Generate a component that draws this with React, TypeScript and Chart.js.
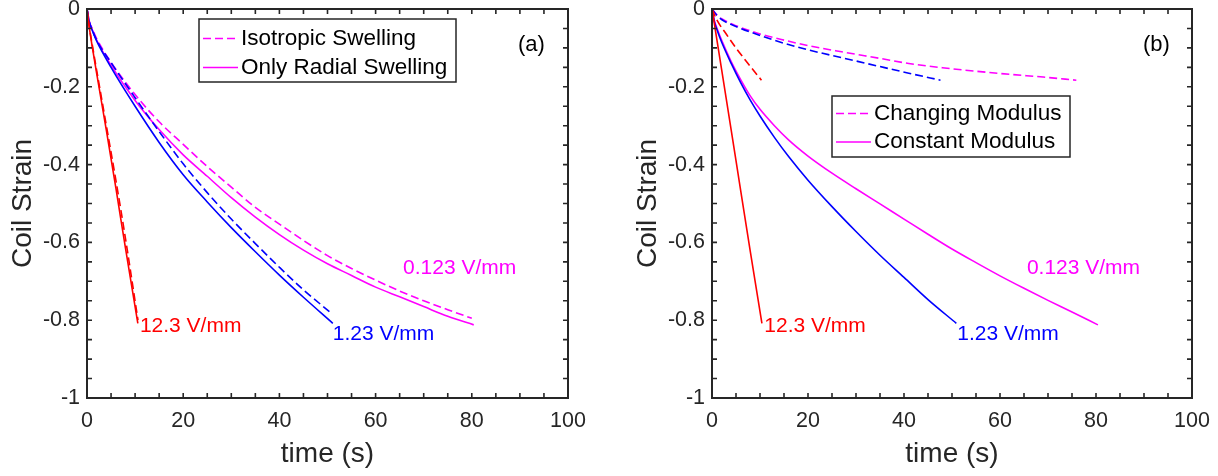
import React, { useEffect, useRef } from 'react';
import { Chart, registerables } from 'chart.js';

Chart.register(...registerables);

type Pt = [number, number];

const FONT = "'Liberation Sans', Arial, Helvetica, sans-serif";
const AXIS_COLOR = '#262626';
const RED = '#ff0000';
const BLUE = '#0000ff';
const MAGENTA = '#ff00ff';

// ---- axes ----
const X_TICKS = [0, 20, 40, 60, 80, 100];
const X_TICK_LABELS = ['0', '20', '40', '60', '80', '100'];
const Y_TICKS = [-1, -0.8, -0.6, -0.4, -0.2, 0];
const Y_TICK_LABELS = ['-1', '-0.8', '-0.6', '-0.4', '-0.2', '0'];
const X_TITLE = 'time (s)';
const Y_TITLE = 'Coil Strain';
const FIELD_LABELS = ['12.3 V/mm', '1.23 V/mm', '0.123 V/mm'];
const A_LEGEND = ['Isotropic Swelling', 'Only Radial Swelling'];
const B_LEGEND = ['Changing Modulus', 'Constant Modulus'];
const PANEL_TAGS = ['(a)', '(b)'];

// ---- panel (a): [time (s), coil strain] ----
const aRedIso: Pt[] = [[0, 0], [0.5, -0.048], [1, -0.085], [2, -0.157], [4, -0.298], [6, -0.44], [8, -0.59], [10.6, -0.8]];
const aRedRadial: Pt[] = [[0, 0], [0.5, -0.05], [1, -0.09], [2, -0.165], [4, -0.31], [6, -0.46], [8, -0.615], [10.57, -0.808]];
const aBlueIso: Pt[] = [[0, 0], [0.5, -0.034], [1, -0.051], [2, -0.08], [5, -0.138], [10, -0.228], [15, -0.315], [20, -0.398], [25, -0.472], [30, -0.54], [35, -0.603], [40, -0.664], [45, -0.722], [50.8, -0.782]];
const aBlueRadial: Pt[] = [[0, 0], [0.5, -0.035], [1, -0.052], [2, -0.082], [5, -0.15], [10, -0.25], [15, -0.343], [20, -0.426], [25, -0.496], [30, -0.562], [35, -0.624], [40, -0.684], [45, -0.741], [51.1, -0.808]];
const aMagIso: Pt[] = [[0, 0], [0.5, -0.033], [1, -0.048], [2, -0.076], [5, -0.137], [10, -0.22], [15, -0.29], [20, -0.348], [25, -0.405], [30, -0.458], [35, -0.51], [40, -0.553], [45, -0.595], [50, -0.634], [55, -0.667], [60, -0.697], [65, -0.725], [70, -0.75], [75, -0.773], [80, -0.795]];
const aMagRadial: Pt[] = [[0, 0], [0.5, -0.034], [1, -0.05], [2, -0.08], [5, -0.145], [10, -0.235], [15, -0.31], [20, -0.375], [25, -0.43], [30, -0.485], [35, -0.535], [40, -0.58], [45, -0.62], [50, -0.655], [55, -0.685], [60, -0.715], [65, -0.74], [70, -0.765], [75, -0.79], [80.4, -0.812]];

// ---- panel (b): [time (s), coil strain] ----
const bRedChanging: Pt[] = [[0, 0], [1, -0.028], [3, -0.065], [5, -0.1], [7.5, -0.14], [10.3, -0.183]];
const bRedConstant: Pt[] = [[0, 0], [2, -0.155], [5, -0.39], [8, -0.625], [10.4, -0.808]];
const bBlueChanging: Pt[] = [[0, 0], [1, -0.016], [2, -0.027], [5, -0.045], [10, -0.068], [15, -0.088], [20, -0.105], [27, -0.125], [35, -0.148], [41, -0.165], [47.6, -0.183]];
const bBlueConstant: Pt[] = [[0, 0], [0.5, -0.033], [1, -0.052], [2, -0.085], [4, -0.14], [6, -0.19], [8, -0.235], [10, -0.275], [13, -0.33], [16, -0.38], [20, -0.44], [25, -0.508], [30, -0.572], [35, -0.633], [40, -0.69], [45, -0.747], [50.9, -0.808]];
const bMagChanging: Pt[] = [[0, 0], [1, -0.015], [2, -0.025], [5, -0.043], [10, -0.064], [15, -0.08], [20, -0.094], [27, -0.11], [35, -0.127], [41, -0.14], [48, -0.151], [55, -0.16], [62, -0.168], [69, -0.175], [75.9, -0.183]];
const bMagConstant: Pt[] = [[0, 0], [0.5, -0.03], [1, -0.048], [2, -0.08], [4, -0.135], [6, -0.182], [8, -0.224], [10, -0.258], [13, -0.3], [16, -0.337], [20, -0.378], [25, -0.422], [30, -0.462], [35, -0.501], [40, -0.54], [45, -0.579], [50, -0.617], [55, -0.652], [60, -0.686], [65, -0.718], [70, -0.749], [75, -0.779], [80.4, -0.812]];

interface Series { data: Pt[]; color: string; dashed: boolean; label: string }
interface PanelCfg {
  series: Series[];
  legendItems: number[];
  legendBox: { dx: number; dy: number; w: number; h: number; rows: number[] };
  notes: { text: string; color: string; at: Pt }[];
  tag: { text: string; at: Pt };
  rightPad: number;
}

const PANEL_A: PanelCfg = {
  series: [
    { data: aRedIso, color: RED, dashed: true, label: A_LEGEND[0] },
    { data: aRedRadial, color: RED, dashed: false, label: A_LEGEND[1] },
    { data: aBlueIso, color: BLUE, dashed: true, label: A_LEGEND[0] },
    { data: aBlueRadial, color: BLUE, dashed: false, label: A_LEGEND[1] },
    { data: aMagIso, color: MAGENTA, dashed: true, label: A_LEGEND[0] },
    { data: aMagRadial, color: MAGENTA, dashed: false, label: A_LEGEND[1] },
  ],
  legendItems: [4, 5],
  legendBox: { dx: 112, dy: 10, w: 257, h: 63, rows: [19.5, 48.5] },
  notes: [
    { text: FIELD_LABELS[0], color: RED, at: [11.0, -0.815] },
    { text: FIELD_LABELS[1], color: BLUE, at: [51.1, -0.835] },
    { text: FIELD_LABELS[2], color: MAGENTA, at: [65.7, -0.666] },
  ],
  tag: { text: PANEL_TAGS[0], at: [89.6, -0.0925] },
  rightPad: 41,
};

const PANEL_B: PanelCfg = {
  series: [
    { data: bRedChanging, color: RED, dashed: true, label: B_LEGEND[0] },
    { data: bRedConstant, color: RED, dashed: false, label: B_LEGEND[1] },
    { data: bBlueChanging, color: BLUE, dashed: true, label: B_LEGEND[0] },
    { data: bBlueConstant, color: BLUE, dashed: false, label: B_LEGEND[1] },
    { data: bMagChanging, color: MAGENTA, dashed: true, label: B_LEGEND[0] },
    { data: bMagConstant, color: MAGENTA, dashed: false, label: B_LEGEND[1] },
  ],
  legendItems: [4, 5],
  legendBox: { dx: 120, dy: 87, w: 238, h: 61, rows: [17.5, 46] },
  notes: [
    { text: FIELD_LABELS[0], color: RED, at: [10.9, -0.815] },
    { text: FIELD_LABELS[1], color: BLUE, at: [51.1, -0.835] },
    { text: FIELD_LABELS[2], color: MAGENTA, at: [65.6, -0.666] },
  ],
  tag: { text: PANEL_TAGS[1], at: [89.8, -0.0925] },
  rightPad: 26,
};

const DASH = [8, 4];

function framePlugin(cfg: PanelCfg) {
  return {
    id: 'frame',
    afterDraw(chart: any) {
      const { ctx, chartArea: ca } = chart;
      const xs = chart.scales.x;
      const ys = chart.scales.y;
      ctx.save();
      // inward ticks on all four sides
      ctx.strokeStyle = AXIS_COLOR;
      ctx.lineWidth = 1.6;
      ctx.setLineDash([]);
      ctx.beginPath();
      for (let i = 0; i <= 20; i++) {
        const px = xs.getPixelForValue(i * 5);
        ctx.moveTo(px, ca.bottom);
        ctx.lineTo(px, ca.bottom - 5);
        ctx.moveTo(px, ca.top);
        ctx.lineTo(px, ca.top + 5);
        const py = ys.getPixelForValue(-1 + i * 0.05);
        ctx.moveTo(ca.left, py);
        ctx.lineTo(ca.left + 5, py);
        ctx.moveTo(ca.right, py);
        ctx.lineTo(ca.right - 5, py);
      }
      ctx.stroke();
      // box
      ctx.lineWidth = 2;
      ctx.strokeRect(ca.left, ca.top, ca.right - ca.left, ca.bottom - ca.top);

      // legend
      const lb = cfg.legendBox;
      const bx = ca.left + lb.dx;
      const by = ca.top + lb.dy;
      ctx.fillStyle = '#ffffff';
      ctx.fillRect(bx, by, lb.w, lb.h);
      ctx.lineWidth = 1.5;
      ctx.strokeStyle = AXIS_COLOR;
      ctx.strokeRect(bx, by, lb.w, lb.h);
      cfg.legendItems.forEach((idx, k) => {
        const ds = chart.data.datasets[idx];
        const ry = by + lb.rows[k];
        ctx.strokeStyle = ds.borderColor;
        ctx.lineWidth = ds.borderWidth;
        ctx.setLineDash(ds.borderDash || []);
        ctx.beginPath();
        ctx.moveTo(bx + 4, ry);
        ctx.lineTo(bx + 39, ry);
        ctx.stroke();
        ctx.setLineDash([]);
        ctx.fillStyle = '#000000';
        ctx.font = `22.5px ${FONT}`;
        ctx.textAlign = 'left';
        ctx.textBaseline = 'middle';
        ctx.fillText(ds.label, bx + 42, ry);
      });

      // annotations
      ctx.font = `21px ${FONT}`;
      ctx.textAlign = 'left';
      ctx.textBaseline = 'middle';
      cfg.notes.forEach((n) => {
        ctx.fillStyle = n.color;
        ctx.fillText(n.text, xs.getPixelForValue(n.at[0]), ys.getPixelForValue(n.at[1]));
      });
      ctx.fillStyle = '#000000';
      ctx.font = `22px ${FONT}`;
      ctx.fillText(cfg.tag.text, xs.getPixelForValue(cfg.tag.at[0]), ys.getPixelForValue(cfg.tag.at[1]));
      ctx.restore();
    },
  };
}

function buildConfig(cfg: PanelCfg): any {
  return {
    type: 'line',
    data: {
      datasets: cfg.series.map((s) => ({
        label: s.label,
        data: s.data.map(([x, y]) => ({ x, y })),
        borderColor: s.color,
        backgroundColor: s.color,
        borderWidth: 1.6,
        borderDash: s.dashed ? DASH : [],
        pointRadius: 0,
        fill: false,
        cubicInterpolationMode: 'monotone',
      })),
    },
    options: {
      animation: false,
      responsive: true,
      maintainAspectRatio: false,
      events: [],
      layout: { padding: { top: 9, right: cfg.rightPad, left: 0, bottom: 0 } },
      plugins: { legend: { display: false }, tooltip: { enabled: false } },
      scales: {
        x: {
          type: 'linear',
          min: 0,
          max: 100,
          grid: { display: false, drawTicks: false },
          border: { display: false },
          ticks: {
            font: { family: FONT, size: 21.5 },
            color: AXIS_COLOR,
            padding: 10,
            maxRotation: 0,
            autoSkip: false,
            callback: (v: number) => X_TICK_LABELS[X_TICKS.indexOf(v)] ?? '',
          },
          afterBuildTicks: (s: any) => {
            s.ticks = X_TICKS.map((v) => ({ value: v }));
          },
          afterFit: (s: any) => {
            s.height = 78;
            s.paddingLeft = 0;
            s.paddingRight = 0;
          },
          title: {
            display: true,
            text: X_TITLE,
            font: { family: FONT, size: 28 },
            color: AXIS_COLOR,
            padding: { top: 0, bottom: 5 },
          },
        },
        y: {
          type: 'linear',
          min: -1,
          max: 0,
          grid: { display: false, drawTicks: false },
          border: { display: false },
          ticks: {
            font: { family: FONT, size: 21.5 },
            color: AXIS_COLOR,
            padding: 7,
            autoSkip: false,
            callback: (v: number) => Y_TICK_LABELS[Y_TICKS.indexOf(v)] ?? '',
          },
          afterBuildTicks: (s: any) => {
            s.ticks = Y_TICKS.map((v) => ({ value: v }));
          },
          afterFit: (s: any) => {
            s.width = 87;
            s.paddingTop = 0;
            s.paddingBottom = 0;
          },
          title: {
            display: true,
            text: Y_TITLE,
            font: { family: FONT, size: 28 },
            color: AXIS_COLOR,
            padding: { top: 6, bottom: 0 },
          },
        },
      },
    },
    plugins: [framePlugin(cfg)],
  };
}

function Panel({ cfg, left, width }: { cfg: PanelCfg; left: number; width: number }) {
  const ref = useRef<HTMLCanvasElement>(null);
  useEffect(() => {
    if (!ref.current) return;
    const chart = new Chart(ref.current, buildConfig(cfg));
    return () => chart.destroy();
  }, [cfg]);
  return (
    <div style={{ position: 'absolute', left, top: 0, width, height: 476 }}>
      <canvas ref={ref} />
    </div>
  );
}

export default function App() {
  return (
    <div style={{ position: 'absolute', left: 0, top: 0, width: 1218, height: 476, background: '#ffffff', overflow: 'hidden' }}>
      <Panel cfg={PANEL_A} left={0} width={609} />
      <Panel cfg={PANEL_B} left={625} width={593} />
    </div>
  );
}
